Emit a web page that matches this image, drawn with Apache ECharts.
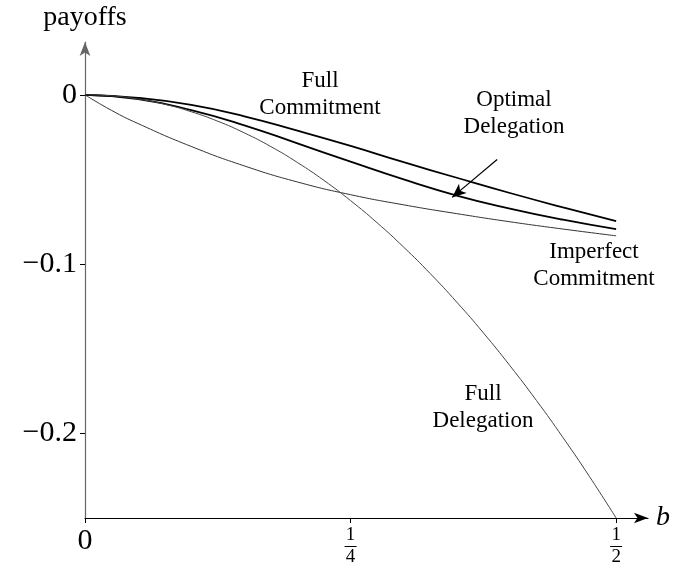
<!DOCTYPE html>
<html>
<head>
<meta charset="utf-8">
<script src="https://cdn.jsdelivr.net/npm/echarts@6/dist/echarts.min.js"></script>
<style>
  html, body { margin: 0; padding: 0; background: #fff; }
  #main { width: 673px; height: 567px; }
</style>
</head>
<body>
<div id="main"></div>
<script>
// values
var bFine = [0, 0.025, 0.05, 0.075, 0.1, 0.125, 0.15, 0.175, 0.2, 0.225, 0.25,
             0.275, 0.3, 0.325, 0.35, 0.375, 0.4, 0.425, 0.45, 0.475, 0.5];
var fullDelegation = [0, -0.0006, -0.0025, -0.0056, -0.01, -0.0156, -0.0225, -0.0306, -0.04, -0.0506, -0.0625,
                      -0.0756, -0.09, -0.1056, -0.1225, -0.1406, -0.16, -0.1806, -0.2025, -0.2256, -0.25];

var bCoarse = [0, 0.05, 0.1, 0.15, 0.2, 0.25, 0.3, 0.35, 0.4, 0.45, 0.5];
var fullCommitment = [0, -0.0018, -0.0060, -0.0127, -0.0212, -0.0302, -0.0398, -0.0490, -0.0580, -0.0665, -0.0746];
var optimalDelegation = [0, -0.0025, -0.0090, -0.0180, -0.0287, -0.0395, -0.0500, -0.0595, -0.0672, -0.0738, -0.0794];

var bImperfect = [0, 0.025, 0.05, 0.1, 0.15, 0.2, 0.25, 0.3, 0.35, 0.4, 0.45, 0.5];
var imperfectCommitment = [0, -0.0092, -0.0170, -0.0305, -0.0420, -0.0515, -0.0590, -0.0650, -0.0702, -0.0750, -0.0793, -0.0833];

var xTicks = [0, 0.25, 0.5];
var xTickText = {'0': '{z|0}', '0.25': '{n|1}\n{l|}\n{n|4}', '0.5': '{n|1}\n{l|}\n{n|2}'};
var yTicks = [0, -0.1, -0.2];
var yTickText = {'0': '0', '-0.1': '\u22120.1', '-0.2': '\u22120.2'};

function pairs(xs, ys) {
  var out = [];
  for (var i = 0; i < xs.length; i++) out.push([xs[i], ys[i]]);
  return out;
}

var serif = '"Liberation Serif", "DejaVu Serif", serif';
var chart = echarts.init(document.getElementById('main'));

var option = {
  animation: false,
  backgroundColor: '#fff',
  grid: { left: 85, right: 25, top: 42, bottom: 47, containLabel: false },
  xAxis: {
    type: 'value',
    min: 0, max: 0.53,
    name: 'b',
    nameLocation: 'end',
    nameGap: 8,
    nameTextStyle: { fontFamily: serif, fontStyle: 'italic', fontSize: 28, color: '#000', verticalAlign: 'middle' },
    splitLine: { show: false },
    axisLine: { onZero: false, lineStyle: { color: '#000', width: 1.2 }, symbol: ['none', 'arrow'], symbolSize: [8, 14] },
    axisTick: { show: true, customValues: xTicks, inside: false, length: 5, lineStyle: { color: '#000' } },
    axisLabel: {
      customValues: xTicks,
      margin: 8,
      fontFamily: serif,
      formatter: function (v) { return xTickText[String(v)]; },
      rich: {
        z: { fontSize: 30, fontFamily: serif, color: '#000' },
        n: { fontSize: 19, fontFamily: serif, color: '#000', lineHeight: 19, align: 'center' },
        l: { width: 12, height: 1, lineHeight: 3, backgroundColor: '#000' }
      }
    }
  },
  yAxis: {
    type: 'value',
    min: -0.25, max: 0.0312,
    name: 'payoffs',
    nameLocation: 'end',
    nameGap: 10,
    nameTextStyle: { fontFamily: serif, fontSize: 28, color: '#000', align: 'center' },
    splitLine: { show: false },
    axisLine: { onZero: false, lineStyle: { color: '#666', width: 1.2 }, symbol: ['none', 'arrow'], symbolSize: [8, 14] },
    axisTick: { show: true, customValues: yTicks, length: 5, lineStyle: { color: '#000' } },
    axisLabel: {
      customValues: yTicks,
      margin: 8,
      fontFamily: serif,
      fontSize: 30,
      color: '#000',
      formatter: function (v) { return yTickText[String(v)]; }
    }
  },
  series: [
    {
      name: 'Full Commitment', type: 'line', smooth: 0.5, showSymbol: false,
      data: pairs(bCoarse, fullCommitment),
      lineStyle: { color: '#000', width: 1.8 }
    },
    {
      name: 'Optimal Delegation', type: 'line', smooth: 0.5, showSymbol: false,
      data: pairs(bCoarse, optimalDelegation),
      lineStyle: { color: '#000', width: 1.8 },
      markLine: {
        silent: true,
        symbol: ['none', 'arrow'],
        symbolSize: [9, 14],
        label: { show: false },
        lineStyle: { color: '#000', width: 1.2, type: 'solid' },
        data: [[{ coord: [0.388, -0.0382] }, { coord: [0.3456, -0.0606] }]]
      }
    },
    {
      name: 'Imperfect Commitment', type: 'line', smooth: 0.5, showSymbol: false,
      data: pairs(bImperfect, imperfectCommitment),
      lineStyle: { color: '#333', width: 1 }
    },
    {
      name: 'Full Delegation', type: 'line', smooth: 0.5, showSymbol: false,
      data: pairs(bFine, fullDelegation),
      lineStyle: { color: '#444', width: 1 }
    }
  ],
  graphic: [
    { type: 'text', x: 320, y: 94, style: { text: 'Full\nCommitment', font: '23px ' + serif, fill: '#000', align: 'center', verticalAlign: 'middle', lineHeight: 27 } },
    { type: 'text', x: 514, y: 113, style: { text: 'Optimal\nDelegation', font: '23px ' + serif, fill: '#000', align: 'center', verticalAlign: 'middle', lineHeight: 27 } },
    { type: 'text', x: 594, y: 265, style: { text: 'Imperfect\nCommitment', font: '23px ' + serif, fill: '#000', align: 'center', verticalAlign: 'middle', lineHeight: 27 } },
    { type: 'text', x: 483, y: 407, style: { text: 'Full\nDelegation', font: '23px ' + serif, fill: '#000', align: 'center', verticalAlign: 'middle', lineHeight: 27 } }
  ]
};
chart.setOption(option);
window.onresize = chart.resize;
</script>
</body>
</html>
